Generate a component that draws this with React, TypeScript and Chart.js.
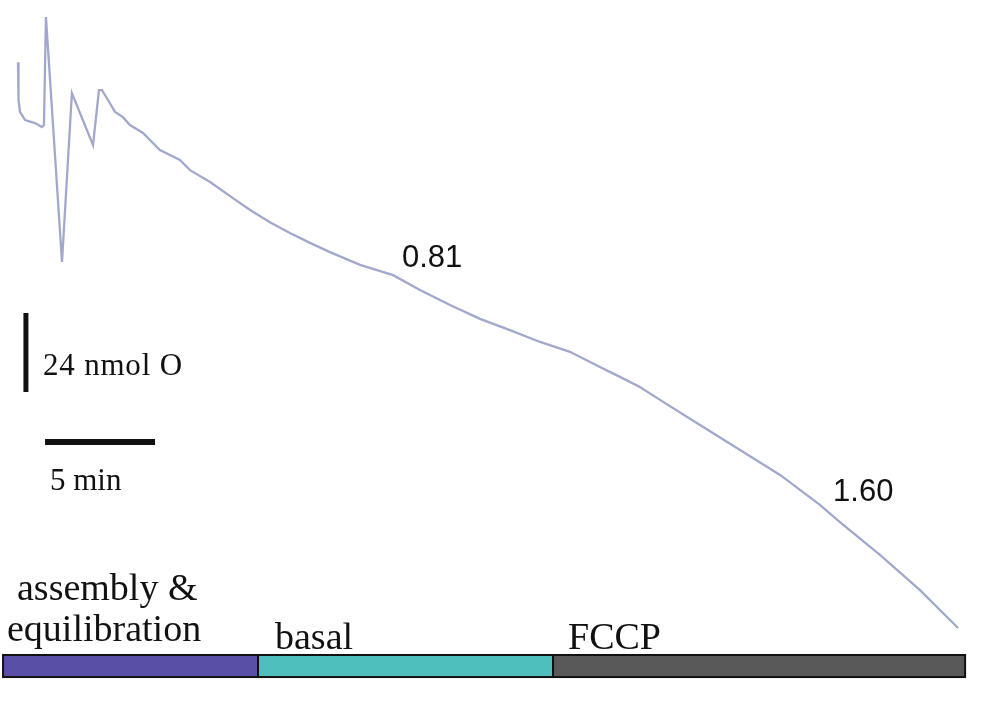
import React, { useEffect, useRef } from "react";
import { Chart, registerables } from "chart.js";

Chart.register(...registerables);

// Oxygen trace: time (min) and O2 remaining (nmol, relative to end of run)
const timeMin = [
  0, 0, 0.045, 0.09, 0.32, 0.77, 1.09, 1.18, 1.27, 2.0, 2.45, 3.41, 3.68, 3.82,
  4.09, 4.41, 4.77, 5.09, 5.68, 6.45, 7.36, 7.82, 8.73, 9.64, 10.55, 11.45,
  12.36, 13.27, 14.18, 15.55, 17.05, 18.27, 19.64, 21.0, 22.36, 23.73, 25.09,
  26.45, 27.36, 28.27, 29.18, 31.0, 32.82, 34.64, 36.45, 37.36, 39.18, 41.0,
  42.73,
];
const o2Nmol = [
  171.9, 168.0, 160.4, 156.8, 154.3, 153.4, 152.2, 152.8, 185.6, 111.2, 162.5,
  146.7, 163.4, 163.4, 160.4, 156.8, 155.2, 152.8, 150.4, 145.2, 142.2, 139.1,
  135.5, 131.2, 127.0, 123.3, 120.0, 117.0, 114.2, 110.3, 107.2, 102.7, 98.1,
  93.9, 90.5, 86.9, 83.9, 79.3, 76.3, 73.2, 69.3, 61.7, 54.1, 46.5, 37.4, 32.2,
  22.2, 11.5, 0,
];

// Phases of the experiment (minutes)
const phaseNames = ["assembly & equilibration", "basal", "FCCP"];
const phaseStart = [-0.68, 10.91, 24.32];
const phaseEnd = [10.91, 24.32, 43.05];

// Respiration rates
const rateLabels = ["0.81", "1.60"];
const rateTime = [17.45, 37.05];
const rateO2 = [109.7, 38.6];

// Scale bars
const scaleBarNmol = 24;
const scaleBarMin = 5;

const PHASE_COLORS = ["#5a4fa7", "#4fbfbd", "#595959"];

const X_MIN = -18 / 22;
const X_MAX = 982 / 22;
const PX_PER_NMOL = 79 / 24;
const Y_MAX = 628 / PX_PER_NMOL;
const Y_MIN = (628 - 713) / PX_PER_NMOL;

const annotationPlugin = {
  id: "traceAnnotations",
  afterDatasetsDraw(chart: any) {
    const ctx = chart.ctx as CanvasRenderingContext2D;
    const xs = chart.scales.x;
    const ys = chart.scales.y;
    ctx.save();
    // phase bars
    const barTop = ys.getPixelForValue(-8.2);
    const barBot = ys.getPixelForValue(-14.9);
    for (let i = 0; i < phaseNames.length; i++) {
      const x0 = xs.getPixelForValue(phaseStart[i]);
      const x1 = xs.getPixelForValue(phaseEnd[i]);
      ctx.fillStyle = PHASE_COLORS[i];
      ctx.fillRect(x0, barTop, x1 - x0, barBot - barTop);
      ctx.strokeStyle = "#111";
      ctx.lineWidth = 2;
      ctx.strokeRect(x0, barTop, x1 - x0, barBot - barTop);
    }
    // phase labels
    ctx.fillStyle = "#111";
    ctx.textBaseline = "alphabetic";
    ctx.textAlign = "left";
    ctx.font = '38px "Liberation Serif", "Times New Roman", serif';
    const phaseLabelPos: [string, number, number][] = [
      ["assembly &", 17, 600],
      ["equilibration", 7, 641],
      [phaseNames[1], 275, 649],
      [phaseNames[2], 568, 649],
    ];
    phaseLabelPos.forEach(([t, px, py]) => {
      ctx.fillText(t, px, py);
    });
    // rate labels
    ctx.font = '31px "Liberation Sans", Arial, sans-serif';
    for (let i = 0; i < rateLabels.length; i++) {
      ctx.fillText(rateLabels[i], xs.getPixelForValue(rateTime[i]), ys.getPixelForValue(rateO2[i]));
    }
    // scale bar labels
    ctx.font = '31px "Liberation Serif", "Times New Roman", serif';
    (ctx as any).letterSpacing = "0.8px";
    ctx.fillText(`${scaleBarNmol} nmol O`, 43, 375);
    (ctx as any).letterSpacing = "0px";
    ctx.fillText(`${scaleBarMin} min`, 50, 490);
    ctx.restore();
  },
};

export default function App() {
  const ref = useRef<HTMLCanvasElement>(null);
  useEffect(() => {
    if (!ref.current) return;
    const vBarT = 0.36;
    const vBarV0 = 71.7;
    const hBarT0 = 1.23;
    const hBarV = 56.5;
    const chart = new Chart(ref.current, {
      type: "line",
      data: {
        datasets: [
          {
            label: "O2 trace",
            data: timeMin.map((t, i) => ({ x: t, y: o2Nmol[i] })),
            borderColor: "#a2a8cc",
            borderWidth: 2.3,
            pointRadius: 0,
            tension: 0,
          },
          {
            label: "nmol scale",
            data: [
              { x: vBarT, y: vBarV0 },
              { x: vBarT, y: vBarV0 + scaleBarNmol },
            ],
            borderColor: "#111",
            borderWidth: 5,
            pointRadius: 0,
            borderCapStyle: "butt",
          },
          {
            label: "time scale",
            data: [
              { x: hBarT0, y: hBarV },
              { x: hBarT0 + scaleBarMin, y: hBarV },
            ],
            borderColor: "#111",
            borderWidth: 6,
            pointRadius: 0,
            borderCapStyle: "butt",
          },
        ],
      },
      options: {
        animation: false,
        responsive: false,
        devicePixelRatio: 1,
        layout: { padding: 0 },
        scales: {
          x: { type: "linear", display: false, min: X_MIN, max: X_MAX },
          y: { type: "linear", display: false, min: Y_MIN, max: Y_MAX },
        },
        plugins: {
          legend: { display: false },
          tooltip: { enabled: false },
        },
      },
      plugins: [annotationPlugin],
    });
    return () => chart.destroy();
  }, []);
  return (
    <div style={{ position: "absolute", left: 0, top: 0, width: 1000, height: 713, background: "#fff" }}>
      <canvas ref={ref} width={1000} height={713} style={{ width: 1000, height: 713, display: "block" }} />
    </div>
  );
}
